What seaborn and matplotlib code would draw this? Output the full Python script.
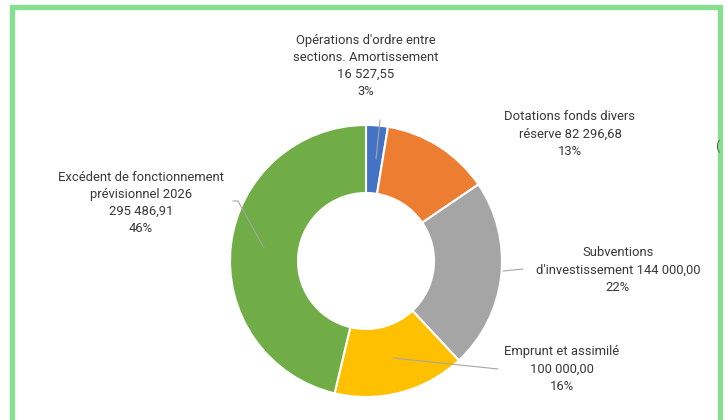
import matplotlib.pyplot as plt
import seaborn as sns

# données du graphique (budget investissement)
labels = ["Opérations d'ordre entre\nsections. Amortissement",
          "Dotations fonds divers\nréserve",
          "Subventions\nd'investissement",
          "Emprunt et assimilé",
          "Excédent de fonctionnement\nprévisionnel 2026"]
values = [16527.55, 82296.68, 144000.00, 100000.00, 295486.91]
value_txt = ["16 527,55", "82 296,68", "144 000,00", "100 000,00", "295 486,91"]
pct_txt = ["3%", "13%", "22%", "16%", "46%"]
colors = ["#4472C4", "#ED7D31", "#A5A5A5", "#FFC000", "#70AD47"]

sns.set_theme(style="white")
plt.rcParams['font.family'] = ['Roboto', 'DejaVu Sans']

W, H = 728, 420
fig = plt.figure(figsize=(W / 100, H / 100), dpi=100)
ax = fig.add_axes([0, 0, 1, 1])

cx, cy, R = 366, H - 261, 136
ax.pie(values, colors=colors, startangle=90, counterclock=False,
       center=(cx, cy), radius=R, frame=True,
       wedgeprops=dict(width=R * 0.5, edgecolor='white', linewidth=1.5))
ax.set_xlim(0, W)
ax.set_ylim(0, H)
ax.set_aspect('equal')
ax.axis('off')

# étiquettes
blocks = [
    (labels[0] + "\n" + value_txt[0] + "\n" + pct_txt[0], 366, 66),
    (labels[1] + " " + value_txt[1] + "\n" + pct_txt[1], 570, 134),
    (labels[2] + " " + value_txt[2] + "\n" + pct_txt[2], 618, 270),
    (labels[3] + "\n" + value_txt[3] + "\n" + pct_txt[3], 562, 369),
    (labels[4] + "\n" + value_txt[4] + "\n" + pct_txt[4], 141, 203),
]
for txt, x, y in blocks:
    ax.text(x, H - y, txt, ha='center', va='center', fontsize=9.4,
            color='#383838', linespacing=1.42)

# lignes de rappel
lc = '#A6A6A6'
leaders = [
    ([380, 376], [120, 159]),
    ([503, 523], [271, 269]),
    ([393, 498], [358, 369]),
    ([233, 238, 264], [201, 201, 248]),
]
for xs, ys in leaders:
    ax.plot(xs, [H - v for v in ys], color=lc, lw=0.8)

ax.text(715, H - 146, "(", ha='left', va='center', fontsize=9, color='#595959')

# cadre vert
g = '#86DF8E'
ax.plot([12, 12, 720, 720], [-5, H - 7, H - 7, -5], color=g, lw=3.8,
        solid_joinstyle='miter')

fig.savefig("out.png", dpi=100)
